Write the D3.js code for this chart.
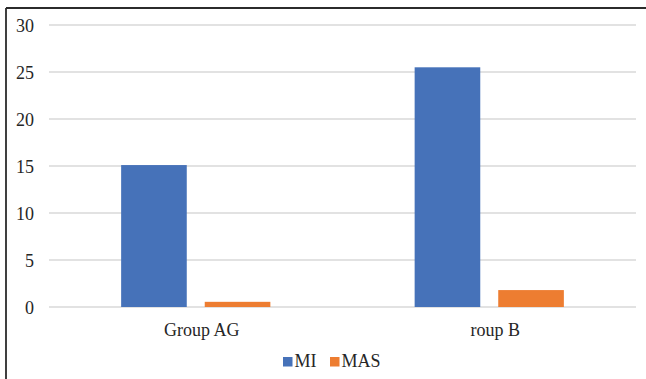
<!DOCTYPE html>
<html>
<head>
<meta charset="utf-8">
<script src="https://cdn.jsdelivr.net/npm/d3@7"></script>
<style>
  html, body { margin: 0; padding: 0; background: #fff; }
  svg { display: block; font-family: "Liberation Serif", "Times New Roman", serif; }
</style>
</head>
<body>
<svg id="chart" width="646" height="379"></svg>
<script>
// Chart data
const categories = ["Group AG", "roup B"];
const seriesNames = ["MI", "MAS"];
const miValues = [15.1, 25.5];
const masValues = [0.55, 1.8];
const yTicks = [0, 5, 10, 15, 20, 25, 30];
const seriesColors = ["#4672B9", "#ED7D31"];

const seriesValues = [miValues, masValues];

const svg = d3.select("#chart");
const W = 646, H = 379;
const plot = { left: 49, right: 636, top: 25, bottom: 307 };

// Frame: top and left rules
svg.append("line").attr("x1", 6).attr("x2", W).attr("y1", 8).attr("y2", 8)
  .attr("stroke", "#2b2b2b").attr("stroke-width", 1.8);
svg.append("line").attr("x1", 6).attr("x2", 6).attr("y1", 8).attr("y2", H)
  .attr("stroke", "#2b2b2b").attr("stroke-width", 1.8);

const x0 = d3.scaleBand().domain(categories).range([plot.left, plot.right]).padding(0);
const x1 = d3.scaleBand().domain(seriesNames).range([0, x0.bandwidth()])
  .paddingInner(0.215).paddingOuter(0.863);
const y = d3.scaleLinear().domain([0, 30]).range([plot.bottom, plot.top]);

// Horizontal gridlines
svg.append("g").selectAll("line").data(yTicks).join("line")
  .attr("x1", plot.left).attr("x2", plot.right)
  .attr("y1", d => y(d)).attr("y2", d => y(d))
  .attr("stroke", "#d9d9d9").attr("stroke-width", 1.3);

// Y axis tick labels
const yAxis = d3.axisLeft(y).tickValues(yTicks).tickSize(0).tickPadding(0);
const gy = svg.append("g").attr("transform", "translate(34,0)").call(yAxis);
gy.select(".domain").remove();
gy.selectAll("text").attr("font-size", 18).attr("font-family", "Liberation Serif, serif")
  .attr("fill", "#262626").attr("dy", "0.36em");

// Bars
const groups = svg.append("g").selectAll("g").data(categories).join("g")
  .attr("transform", c => `translate(${x0(c)},0)`);
groups.selectAll("rect")
  .data((c, i) => seriesNames.map((s, j) => ({ s, j, v: seriesValues[j][i] })))
  .join("rect")
  .attr("x", d => x1(d.s))
  .attr("width", x1.bandwidth())
  .attr("y", d => y(d.v))
  .attr("height", d => y(0) - y(d.v))
  .attr("fill", d => seriesColors[d.j]);

// Category labels
const xAxis = d3.axisBottom(x0).tickSize(0).tickPadding(0);
const gx = svg.append("g").attr("transform", `translate(6,${plot.bottom})`).call(xAxis);
gx.select(".domain").remove();
gx.selectAll("text").attr("font-size", 18).attr("font-family", "Liberation Serif, serif")
  .attr("fill", "#262626").attr("dy", null).attr("y", 29);

// Legend
const legendItems = [
  { name: seriesNames[0], color: seriesColors[0], x: 283 },
  { name: seriesNames[1], color: seriesColors[1], x: 330 }
];
const lg = svg.append("g").selectAll("g").data(legendItems).join("g")
  .attr("transform", d => `translate(${d.x},0)`);
lg.append("rect").attr("x", 0).attr("y", 357).attr("width", 9.5).attr("height", 9.5)
  .attr("fill", d => d.color);
lg.append("text").attr("x", 11.5).attr("y", 367).attr("font-size", 18)
  .attr("fill", "#262626").text(d => d.name);
</script>
</body>
</html>
